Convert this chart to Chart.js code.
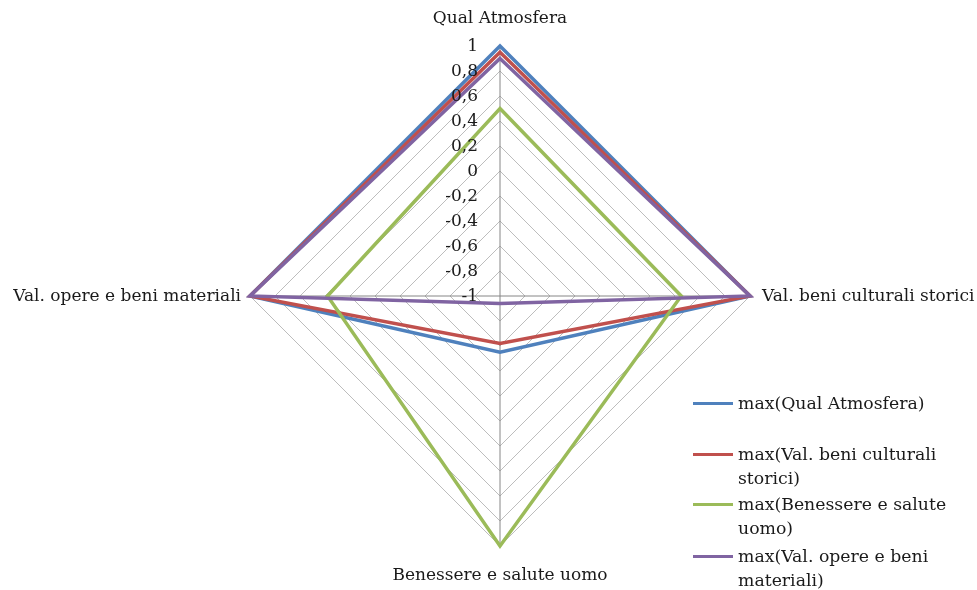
<!DOCTYPE html>
<html>
<head>
<meta charset="utf-8">
<script src="https://cdn.jsdelivr.net/npm/chart.js@4/dist/chart.umd.min.js"></script>
<style>
  body { margin: 0; background: #fff; }
  #wrap { position: relative; width: 977px; height: 590px; }
  #legend { position: absolute; left: 0; top: 0; font-family: 'DejaVu Serif', serif; font-size: 17.3px; color: #1a1a1a; }
  .item { position: absolute; left: 693px; line-height: 24px; white-space: nowrap; }
  .item .ln { position: absolute; left: 0; top: 11px; width: 40px; height: 3px; }
  .item .tx { position: absolute; left: 45px; top: 0; }
</style>
</head>
<body>
<div id="wrap">
  <canvas id="myChart" width="977" height="590"></canvas>
  <div id="legend"></div>
</div>
<script>
const AXES = [
  'Qual Atmosfera',
  'Val. beni culturali storici',
  'Benessere e salute uomo',
  'Val. opere e beni materiali'
];

const SERIES_NAMES = [
  ['max(Qual Atmosfera)'],
  ['max(Val. beni culturali', 'storici)'],
  ['max(Benessere e salute', 'uomo)'],
  ['max(Val. opere e beni', 'materiali)']
];

const qualAtmosfera = [1, 1, -0.55, 1];
const beniCulturali = [0.95, 1, -0.62, 1];
const benessere = [0.5, 0.45, 1, 0.38];
const opereMateriali = [0.9, 1, -0.94, 1];

const COLORS = ['#4F81BD', '#C0504D', '#9BBB59', '#8064A2'];
const SCALE_MIN = -1;
const SCALE_MAX = 1;
const SCALE_STEP = 0.2;

const fmt = v => {
  let s = (Math.round(v * 10) / 10).toFixed(1).replace('.', ',');
  if (s.endsWith(',0')) s = s.slice(0, -2);
  if (s === '-0') s = '0';
  return s;
};

// tick labels and axis titles drawn next to the scale
const labelsPlugin = {
  id: 'radarText',
  afterDraw(chart) {
    const scale = chart.scales.r;
    const ctx = chart.ctx;
    ctx.save();
    ctx.fillStyle = '#1a1a1a';
    ctx.font = '17px "DejaVu Serif", serif';
    ctx.textAlign = 'right';
    ctx.textBaseline = 'middle';
    scale.ticks.forEach(t => {
      const d = scale.getDistanceFromCenterForValue(t.value);
      ctx.fillText(fmt(t.value), scale.xCenter - 22, scale.yCenter - d + 1);
    });

    const offsets = [28, 12, 29, 9];
    AXES.forEach((name, i) => {
      const p = scale.getPointPosition(i, scale.drawingArea + offsets[i]);
      if (i === 0 || i === 2) ctx.textAlign = 'center';
      else if (i === 1) ctx.textAlign = 'left';
      else ctx.textAlign = 'right';
      ctx.fillText(name, p.x, p.y + 1);
    });
    ctx.restore();
  }
};

const config = {
  type: 'radar',
  data: {
    labels: AXES,
    datasets: [
      { label: SERIES_NAMES[0].join(' '), data: qualAtmosfera, borderColor: COLORS[0], order: 4 },
      { label: SERIES_NAMES[1].join(' '), data: beniCulturali, borderColor: COLORS[1], order: 3 },
      { label: SERIES_NAMES[2].join(' '), data: benessere, borderColor: COLORS[2], order: 2 },
      { label: SERIES_NAMES[3].join(' '), data: opereMateriali, borderColor: COLORS[3], order: 1 }
    ].map(ds => Object.assign(ds, {
      borderWidth: 3.5,
      fill: false,
      pointRadius: 0,
      pointHoverRadius: 0,
      tension: 0,
      borderJoinStyle: 'miter'
    }))
  },
  options: {
    responsive: false,
    animation: false,
    layout: {
      padding: { left: 250, right: 227, top: 46, bottom: 44 }
    },
    scales: {
      r: {
        min: SCALE_MIN,
        max: SCALE_MAX,
        ticks: { stepSize: SCALE_STEP, display: false },
        pointLabels: { display: false },
        grid: { color: '#bdbdbd', lineWidth: 1 },
        angleLines: { color: '#868686', lineWidth: 1 }
      }
    },
    plugins: {
      legend: { display: false },
      tooltip: { enabled: false }
    }
  },
  plugins: [labelsPlugin]
};

new Chart(document.getElementById('myChart'), config);

// html legend on the right
const LEGEND_TOP = [391, 442, 492, 544];
const legendEl = document.getElementById('legend');
SERIES_NAMES.forEach((lines, i) => {
  const div = document.createElement('div');
  div.className = 'item';
  div.style.top = LEGEND_TOP[i] + 'px';
  div.innerHTML = '<div class="ln" style="background:' + COLORS[i] + '"></div>' +
    '<div class="tx">' + lines.join('<br>') + '</div>';
  legendEl.appendChild(div);
});
</script>
</body>
</html>
